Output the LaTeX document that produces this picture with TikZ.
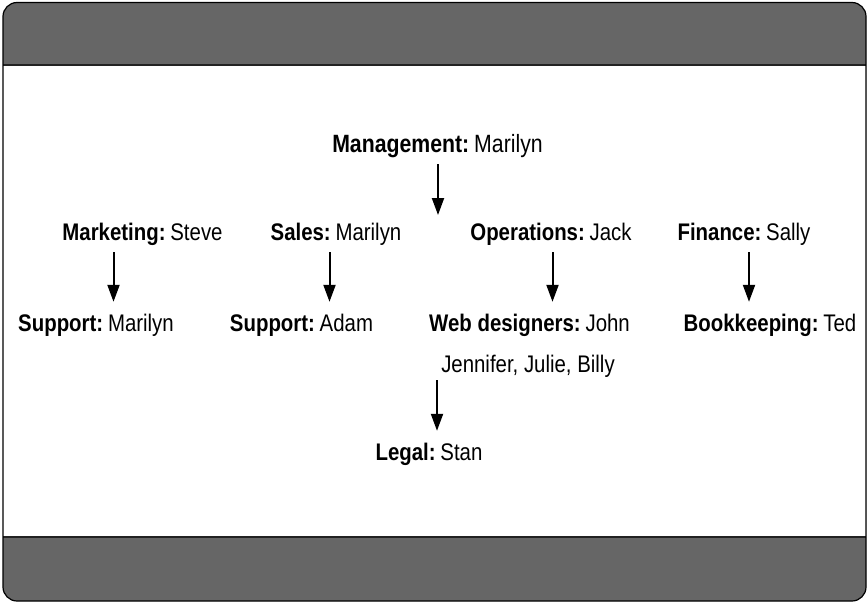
\documentclass[tikz,border=0pt]{standalone}
\usepackage{fontspec}
\setmainfont{Liberation Sans}[FakeStretch=0.85]
\usetikzlibrary{arrows.meta}

\definecolor{bandgray}{HTML}{666666}
\definecolor{bandline}{HTML}{222222}

\newcommand{\role}[2]{\textbf{#1:}\hspace{0.2em}#2}

\tikzset{
  dept/.style={inner sep=0pt, anchor=base, text height=29pt, text depth=12pt,
    font=\fontsize{24}{28}\selectfont},
  link/.style={line width=2pt, -{Triangle[length=17pt,width=12pt]}}
}

\begin{document}
\begin{tikzpicture}[x=1pt,y=-1pt]
        \useasboundingbox (0,0) rectangle (867,602);
        % card with grey header and footer
        \fill[bandgray, rounded corners=14pt] (3,2.5) rectangle (866,601);
        \fill[white] (3,65.5) rectangle (866,537.3);
        \draw[bandline, line width=2pt] (3,65.5) -- (866,65.5);
        \draw[bandline, line width=2pt] (3,537.3) -- (866,537.3);
        \draw[line width=1.2pt, rounded corners=14pt] (3,2.5) rectangle (866,601);

        \node[dept, font=\fontsize{25}{29}\selectfont] (mgmt) at (437.5,152) {\role{Management}{Marilyn}};
        \coordinate (mgmttip) at (438,215);

        \node[dept] (mkt) at (142.5,240) {\role{Marketing}{Steve}};
        \node[dept] (sales) at (336,240) {\role{Sales}{Marilyn}};
        \node[dept] (ops) at (551,240) {\role{Operations}{Jack}};
        \node[dept] (fin) at (744,240) {\role{Finance}{Sally}};

        \node[dept] (mktsup) at (96,331) {\role{Support}{Marilyn}};
        \node[dept] (salessup) at (301.5,331) {\role{Support}{Adam}};
        \node[dept] (web) at (529.5,331) {\role{Web designers}{John}};
        \node[dept, text depth=8pt] (web2) at (528,372) {Jennifer, Julie, Billy};
        \node[dept] (fin2) at (770,331) {\role{Bookkeeping}{Ted}};

        \node[dept] (legal) at (429,460) {\role{Legal}{Stan}};

        \draw[link] (mgmt.south -| 438,0) -- (mgmttip);
        \draw[link] (mkt.south -| 113.5,0) -- (mktsup.north -| 113.5,0);
        \draw[link] (sales.south -| 329.5,0) -- (salessup.north -| 329.5,0);
        \draw[link] (ops.south -| 552.5,0) -- (web.north -| 552.5,0);
        \draw[link] (fin.south -| 749,0) -- (fin2.north -| 749,0);
        \draw[link] (web2.south -| 437,0) -- (legal.north -| 437,0);
\end{tikzpicture}
\end{document}
